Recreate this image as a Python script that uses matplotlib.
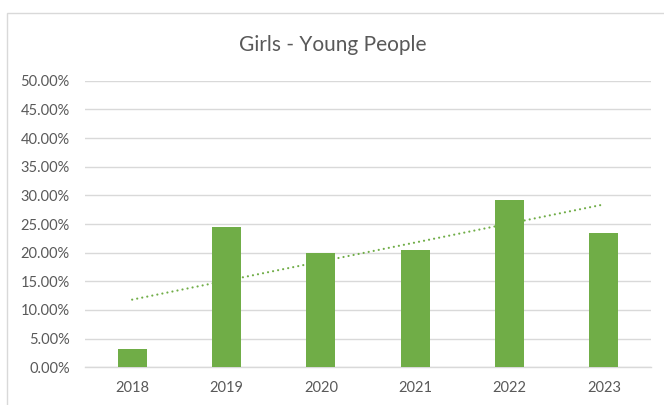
import matplotlib
matplotlib.use("Agg")
import matplotlib.pyplot as plt
import numpy as np
from matplotlib.patches import Rectangle

years = ["2018", "2019", "2020", "2021", "2022", "2023"]
values = [3.15, 24.4, 20.0, 20.45, 29.25, 23.4]  # percent
title = "Girls - Young People"

W, H = 664, 405
fig = plt.figure(figsize=(W / 100, H / 100), dpi=100)
fig.patch.set_facecolor("white")

# chart border (left + top visible)
fig.patches.append(Rectangle((7 / W, -0.1), 1.2, 1 - 13 / H + 0.1, transform=fig.transFigure,
                             fill=False, edgecolor="#D9D9D9", linewidth=1.0))

ax = fig.add_axes([85 / W, 1 - 367.3 / H, 566 / W, (367.3 - 80.7) / H])
x = np.arange(len(years))
green = "#70AD47"
ax.bar(x, np.array(values) / 100, width=0.31, color=green, zorder=3)

coef = np.polyfit(x, np.array(values) / 100, 1)
ax.plot(x, np.polyval(coef, x), linestyle=(0, (0.01, 2.3)), dash_capstyle="round",
        color=green, linewidth=1.6, zorder=4)

ax.set_xlim(-0.5, len(years) - 0.5)
ax.set_ylim(0, 0.5)
yt = np.arange(0, 0.5001, 0.05)
ax.set_yticks(yt)
ax.set_yticklabels([f"{v*100:.2f}%" for v in yt])
ax.set_xticks(x)
ax.set_xticklabels(years)
ax.grid(axis="y", color="#D9D9D9", linewidth=1.0, zorder=0)
ax.set_axisbelow(True)
for s in ["left", "right", "top"]:
    ax.spines[s].set_visible(False)
ax.spines["bottom"].set_color("#D9D9D9")
ax.spines["bottom"].set_linewidth(1.0)
ax.tick_params(axis="both", length=0, labelsize=10.5, colors="#595959")
ax.tick_params(axis="y", pad=11)
ax.tick_params(axis="x", pad=10)
for lab in ax.get_xticklabels() + ax.get_yticklabels():
    lab.set_family("Lato")

fig.text(333 / W, 1 - 45 / H, title, ha="center", va="center", fontsize=15,
         color="#595959", family="Lato")

fig.savefig("out.png", dpi=100)
